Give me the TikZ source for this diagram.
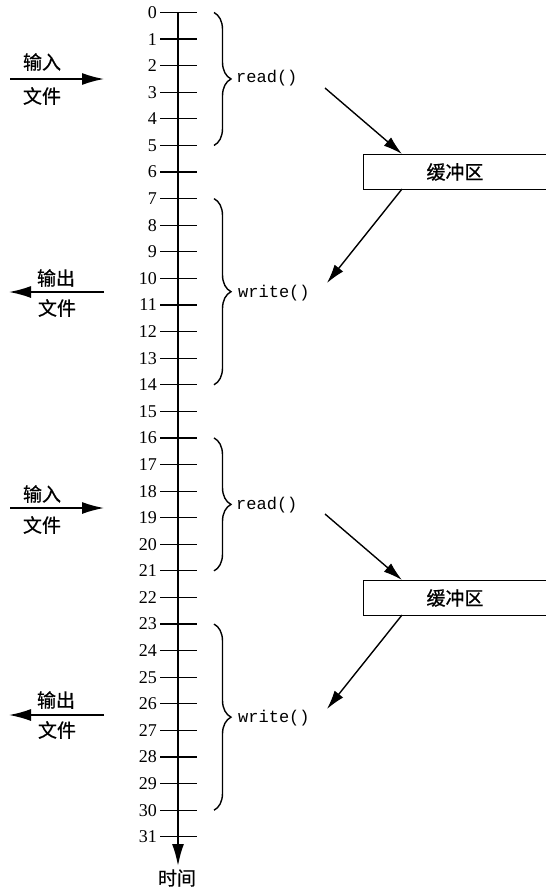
\documentclass[tikz,border=0pt]{standalone}
\usepackage{fontspec}
\setmainfont{Liberation Serif}
\setmonofont{Liberation Mono}
\newfontfamily\cjk{Noto Sans CJK SC}[FakeBold=0.6]
\usetikzlibrary{arrows.meta,decorations.pathreplacing}
\begin{document}
\begin{tikzpicture}[x=1pt,y=-1pt,
  bigarrow/.style={line width=1.6pt,-{Latex[length=22pt,width=12pt]}},
  diagarrow/.style={line width=1.4pt,-{Latex[length=19pt,width=11pt]}},
  tickline/.style={line width=1.2pt},
  numlabel/.style={anchor=east,inner sep=0pt,font=\fontsize{18}{18}\selectfont},
  cjklabel/.style={inner sep=0pt,font=\cjk\fontsize{19}{19}\selectfont},
  calllabel/.style={anchor=west,inner sep=0pt,font=\ttfamily\fontsize{17}{17}\selectfont},
  bufbox/.style={draw,line width=1.3pt,minimum height=35pt,inner sep=0pt},
  bracestyle/.style={line width=1.4pt,decorate,decoration={brace,amplitude=17pt}}]
\useasboundingbox (0,0) rectangle (546,889);
\fill[white] (0,0) rectangle (546,889);
% axis
\coordinate (axtop) at (178,12.5);
\coordinate (axbot) at (178,866);
\draw[line width=2pt,-{Latex[length=22pt,width=12pt]}] (axtop) -- (axbot);
\foreach \i in {0,...,31}{
  \pgfmathsetmacro{\yy}{12.5+26.59*\i}
  \draw[tickline] (160,\yy) -- (197,\yy);
  \node[numlabel] (n\i) at (157,\yy) {\i};
}
\node[cjklabel] (time) at (177,878) {时间};
% braces
\foreach \a/\b/\nm in {0/5/b1,7/14/b2,16/21/b3,23/30/b4}{
  \pgfmathsetmacro{\ya}{12.5+26.59*\a}
  \pgfmathsetmacro{\yb}{12.5+26.59*\b}
  \draw[bracestyle] (214,\ya) -- (214,\yb);
}
\node[calllabel] (read1) at (236,78) {read()};
\node[calllabel] (write1) at (238,293) {write()};
\node[calllabel] (read2) at (236,505) {read()};
\node[calllabel] (write2) at (238,718) {write()};
% buffers
\node[bufbox,minimum width=190pt,anchor=north west] (buf1) at (363,154) {};
\node[cjklabel] at (455,172) {缓冲区};
\node[bufbox,minimum width=190pt,anchor=north west] (buf2) at (363,580) {};
\node[cjklabel] at (455,598) {缓冲区};
\coordinate (r1s) at (325,88);
\coordinate (r1e) at (402,154);
\coordinate (w1s) at (402,189);
\coordinate (w1e) at (327,283);
\coordinate (r2s) at (325,514);
\coordinate (r2e) at (402,580);
\coordinate (w2s) at (402,615);
\coordinate (w2e) at (327,709);
\draw[diagarrow] (r1s) -- (r1e);
\draw[diagarrow] (w1s) -- (w1e);
\draw[diagarrow] (r2s) -- (r2e);
\draw[diagarrow] (w2s) -- (w2e);
% left side
\coordinate (in1a) at (10,79);
\coordinate (in1b) at (104,79);
\draw[bigarrow] (in1a) -- (in1b);
\node[cjklabel] (in1t) at (42,62) {输入};
\node[cjklabel] (in1f) at (42,96) {文件};
\coordinate (out1a) at (104,292);
\coordinate (out1b) at (9,292);
\draw[bigarrow] (out1a) -- (out1b);
\node[cjklabel] (out1t) at (56,278) {输出};
\node[cjklabel] (out1f) at (57,308) {文件};
\coordinate (in2a) at (10,508);
\coordinate (in2b) at (104,508);
\draw[bigarrow] (in2a) -- (in2b);
\node[cjklabel] (in2t) at (42,494) {输入};
\node[cjklabel] (in2f) at (42,525) {文件};
\coordinate (out2a) at (104,715);
\coordinate (out2b) at (9,715);
\draw[bigarrow] (out2a) -- (out2b);
\node[cjklabel] (out2t) at (56,700) {输出};
\node[cjklabel] (out2f) at (57,730) {文件};
\end{tikzpicture}
\end{document}
